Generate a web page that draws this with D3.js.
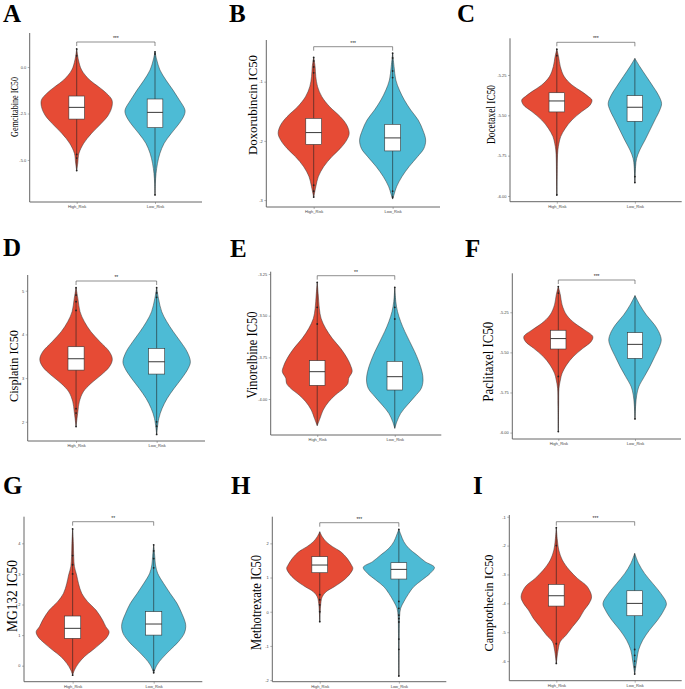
<!DOCTYPE html>
<html lang="en">
<head>
<meta charset="UTF-8">
<title>IC50 violin plots by risk group</title>
<script src="https://d3js.org/d3.v7.min.js"></script>
<style>
  body { margin: 0; background: #fff; }
  svg { display: block; }
  .tick-label { font-family: "Liberation Sans", Arial, sans-serif; fill: #444; }
</style>
</head>
<body>
<div id="chart"></div>
<script>
// ---- data ----
const groups = ["High_Risk", "Low_Risk"];
const panelLetters = ["A", "B", "C", "D", "E", "F", "G", "H", "I"];
const drugTitles = ["Gemcitabine IC50", "Doxorubincin IC50", "Docetaxel IC50",
  "Cisplatin IC50", "Vinorelbine IC50", "Paclitaxel IC50",
  "MG132  IC50", "Methotrexate IC50", "Camptothecin IC50"];
const sigLabels = ["***", "***", "***", "**", "**", "***", "**", "***", "***"];

const yDomains = [[-7.26, 1.83], [-3.117, -0.296], [-6.0355, -5.0225],
  [1.56, 5.36], [-4.216, -3.236], [-6.04, -5.007],
  [-0.523, 4.87], [-2.047, 2.78], [-6.68, -0.94]];
const yTickValues = [[0, -2.5, -5], [-1, -2, -3], [-5.25, -5.5, -5.75, -6],
  [5, 4, 3, 2], [-3.25, -3.5, -3.75, -4], [-5.25, -5.5, -5.75, -6],
  [4, 3, 2, 1, 0], [2, 1, 0, -1, -2], [-1, -2, -3, -4, -5, -6]];
const yTickLabels = [["0.0", "-2.5", "-5.0"], ["-1", "-2", "-3"], ["-5.25", "-5.50", "-5.75", "-6.00"],
  ["5", "4", "3", "2"], ["-3.25", "-3.50", "-3.75", "-4.00"], ["-5.25", "-5.50", "-5.75", "-6.00"],
  ["4", "3", "2", "1", "0"], ["2", "1", "0", "-1", "-2"], ["-1", "-2", "-3", "-4", "-5", "-6"]];

// violin outlines: IC50 values (top to bottom) and relative half-width
const highProfileValues = [
  [0.97, 0.38, -0.16, -0.70, -1.06, -1.42, -1.77, -2.13, -2.58, -3.03, -3.57, -4.10, -4.64, -5.18, -5.57],
  [-0.589, -0.746, -0.915, -1.085, -1.254, -1.423, -1.592, -1.732, -1.873, -1.986, -2.127, -2.268, -2.437, -2.606, -2.775, -2.955],
  [-5.091, -5.136, -5.198, -5.260, -5.312, -5.353, -5.384, -5.405, -5.436, -5.477, -5.529, -5.581, -5.632, -5.674, -5.715, -5.777, -5.860, -5.994],
  [5.069, 4.824, 4.519, 4.290, 4.061, 3.832, 3.603, 3.427, 3.260, 3.069, 2.878, 2.687, 2.458, 2.229, 1.893],
  [-3.300, -3.376, -3.456, -3.516, -3.576, -3.636, -3.696, -3.756, -3.806, -3.836, -3.876, -3.906, -3.936, -3.976, -4.016, -4.066, -4.116, -4.160],
  [-5.090, -5.142, -5.204, -5.267, -5.319, -5.360, -5.402, -5.433, -5.475, -5.527, -5.578, -5.630, -5.672, -5.724, -5.828, -5.994],
  [4.469, 4.0, 3.564, 3.237, 2.965, 2.692, 2.365, 2.093, 1.820, 1.493, 1.275, 1.112, 0.948, 0.730, 0.512, 0.294, 0.076, -0.142, -0.308],
  [2.341, 2.195, 2.049, 1.902, 1.756, 1.561, 1.366, 1.268, 1.122, 0.927, 0.732, 0.585, 0.439, 0.244, -0.293],
  [-1.381, -1.808, -2.155, -2.501, -2.848, -3.136, -3.425, -3.771, -4.002, -4.233, -4.522, -4.811, -5.099, -5.330, -5.619, -6.081]
];
const highProfileWidths = [
  [0, .05, .14, .37, .62, .85, 1.0, 1.0, .9, .7, .42, .2, .065, .03, 0],
  [0, .04, .06, .11, .23, .45, .75, .93, 1.0, .93, .75, .51, .28, .13, .06, 0],
  [0, .05, .1, .21, .43, .71, .9, 1.0, .95, .71, .43, .24, .11, .06, .03, .015, .01, 0],
  [0, .05, .11, .23, .41, .66, .92, 1.0, .92, .69, .41, .2, .09, .05, 0],
  [0, .03, .06, .11, .24, .43, .67, .86, .97, 1.0, .9, .88, .76, .52, .33, .17, .08, 0],
  [0, .06, .11, .24, .48, .76, 1.0, .95, .71, .43, .24, .11, .06, .02, .01, 0],
  [0, .02, .03, .05, .11, .16, .25, .41, .64, .82, .91, 1.0, .95, .77, .55, .32, .16, .05, 0],
  [0, .07, .18, .36, .59, .77, .89, .93, .86, .68, .41, .18, .07, .03, 0],
  [0, .03, .07, .17, .37, .6, .88, 1.0, .93, .79, .65, .46, .28, .11, .05, 0]
];
const lowProfileValues = [
  [0.82, 0.38, -0.16, -0.70, -1.24, -1.77, -2.31, -2.58, -3.03, -3.57, -4.10, -4.64, -5.18, -5.72, -6.25, -6.88],
  [-0.521, -0.746, -0.972, -1.141, -1.310, -1.479, -1.648, -1.817, -1.986, -2.127, -2.268, -2.437, -2.606, -2.775, -2.887, -2.983],
  [-5.147, -5.198, -5.260, -5.322, -5.374, -5.426, -5.467, -5.529, -5.591, -5.653, -5.715, -5.767, -5.818, -5.917],
  [5.069, 4.824, 4.519, 4.290, 4.061, 3.832, 3.603, 3.374, 3.221, 2.992, 2.763, 2.534, 2.305, 2.076, 1.710],
  [-3.330, -3.416, -3.476, -3.536, -3.596, -3.656, -3.716, -3.776, -3.836, -3.886, -3.936, -3.986, -4.036, -4.086, -4.136, -4.176],
  [-5.146, -5.204, -5.267, -5.329, -5.381, -5.423, -5.464, -5.527, -5.589, -5.651, -5.714, -5.766, -5.828, -5.915],
  [3.946, 3.564, 3.292, 3.019, 2.692, 2.365, 2.038, 1.711, 1.439, 1.275, 1.057, 0.785, 0.512, 0.240, 0.022, -0.229],
  [2.410, 2.244, 2.049, 1.854, 1.659, 1.463, 1.298, 1.122, 0.927, 0.732, 0.537, 0.293, 0.098, -0.146, -0.634, -1.883],
  [-2.270, -2.617, -2.963, -3.309, -3.656, -4.002, -4.233, -4.580, -4.926, -5.273, -5.619, -5.965, -6.450]
];
const lowProfileWidths = [
  [0, .05, .14, .31, .51, .69, .85, .83, .69, .46, .26, .14, .07, .03, .01, 0],
  [0, .04, .09, .19, .33, .51, .72, .85, .93, .88, .7, .46, .26, .11, .05, 0],
  [0, .14, .33, .52, .67, .76, .71, .57, .43, .29, .14, .05, .02, 0],
  [0, .05, .14, .28, .46, .66, .84, .93, .87, .69, .48, .29, .15, .06, 0],
  [0, .03, .08, .17, .29, .43, .57, .69, .78, .81, .76, .57, .36, .17, .06, 0],
  [0, .14, .33, .57, .71, .76, .71, .57, .43, .27, .11, .05, .02, 0],
  [0, .03, .05, .11, .27, .45, .64, .77, .86, .88, .84, .68, .45, .23, .09, 0],
  [0, .06, .14, .28, .51, .74, 1.0, .88, .65, .42, .28, .14, .05, .02, .01, 0],
  [0, .11, .28, .51, .74, .9, .83, .65, .42, .23, .11, .06, 0]
];

// boxes: [q1, median, q3]
const highBox = [[-2.80, -2.17, -1.56], [-2.06, -1.86, -1.62], [-5.479, -5.411, -5.360],
  [3.183, 3.443, 3.718], [-3.918, -3.836, -3.770], [-5.479, -5.414, -5.362],
  [0.894, 1.221, 1.624], [1.141, 1.366, 1.610], [-4.095, -3.737, -3.344]];
const lowBox = [[-3.26, -2.44, -1.72], [-2.17, -1.95, -1.72], [-5.537, -5.450, -5.378],
  [3.092, 3.374, 3.679], [-3.946, -3.866, -3.774], [-5.537, -5.450, -5.377],
  [1.0, 1.362, 1.766], [0.956, 1.239, 1.434], [-4.430, -4.002, -3.564]];

const highOutliers = [[0.97, 0.6, -4.7, -4.9, -5.57], [-0.59, -0.65, -0.75, -0.85, -2.75, -2.85, -2.95],
  [-5.09, -5.13, -5.994], [5.07, 4.9, 4.75, 4.55, 2.3, 2.2, 1.89], [-3.30, -3.45, -3.55],
  [-5.09, -5.13, -5.65, -5.994], [4.47, 3.6, 3.3, 3.0, -0.31], [0.5, 0.35, 0.2, 0, -0.29],
  [-1.38, -2.0, -5.4, -6.08]];
const lowOutliers = [[0.82, 0.7, -6.88], [-0.52, -0.6, -0.82, -0.93, -2.85, -2.95],
  [-5.88, -5.917], [5.07, 4.95, 4.85, 2.0, 1.9, 1.71], [-3.33, -3.45, -3.52],
  [-5.915], [3.95, 3.75, 3.5, 3.2, -0.15, -0.23], [2.41, 0.3, 0.1, -0.1, -0.2, -0.3, -0.8, -1.1, -1.88],
  [-5.6, -5.8, -6.0, -6.2, -6.45]];

// ---- layout (pixel frames of the nine panels) ----
const layout = [
  {x0: 29.7, x1: 202, top: 33, bottom: 202, lx: 3, ly: 22, tx: 18, ty: 107, tl: 60, fs: 11, by: 42},
  {x0: 266.3, x1: 440, top: 40, bottom: 207, lx: 229, ly: 22, tx: 257, ty: 105, tl: 100, fs: 12, by: 46.7},
  {x0: 510, x1: 681.7, top: 38.3, bottom: 201.7, lx: 457, ly: 22, tx: 495, ty: 114.5, tl: 59, fs: 12, by: 42.3},
  {x0: 27.7, x1: 205, top: 275, bottom: 441, lx: 3, ly: 256, tx: 18, ty: 366, tl: 72, fs: 12, by: 281},
  {x0: 270.7, x1: 441.3, top: 271.7, bottom: 435, lx: 230, ly: 257, tx: 257, ty: 355, tl: 87, fs: 14, by: 275.7},
  {x0: 512.3, x1: 681, top: 273.3, bottom: 439, lx: 465, ly: 257, tx: 493, ty: 361.7, tl: 80, fs: 14, by: 280},
  {x0: 24, x1: 202.3, top: 516.7, bottom: 681.7, lx: 3, ly: 494, tx: 17, ty: 596, tl: 72, fs: 15, by: 521.7},
  {x0: 272.3, x1: 446.3, top: 516.7, bottom: 681.7, lx: 231, ly: 494, tx: 261, ty: 602.5, tl: 95, fs: 14, by: 522.7},
  {x0: 509.3, x1: 681.7, top: 515, bottom: 680.7, lx: 473, ly: 494, tx: 493, ty: 603, tl: 97, fs: 12, by: 521.7}
];

const colors = {High_Risk: "#E64B35", Low_Risk: "#4DBBD5"};

var svg = d3.select('#chart').append('svg')
  .attr('width', 685).attr('height', 689);
svg.append('rect').attr('width', 685).attr('height', 689).attr('fill', '#fff');

layout.forEach(function(L, i) {
  var g = svg.append('g');

  var x = d3.scalePoint().domain(groups).range([L.x0, L.x1]).padding(0.6);
  var y = d3.scaleLinear().domain(yDomains[i]).range([L.bottom, L.top]);
  var half = x.step() * 0.45;
  var boxHalf = x.step() * 0.1;

  // panel letter
  g.append('text').attr('x', L.lx).attr('y', L.ly)
    .attr('font-family', '"Liberation Serif", "Times New Roman", serif')
    .attr('font-weight', 'bold').attr('font-size', 25)
    .text(panelLetters[i]);

  // y title
  g.append('text')
    .attr('transform', 'translate(' + L.tx + ',' + L.ty + ') rotate(-90)')
    .attr('text-anchor', 'middle')
    .attr('font-family', '"Liberation Serif", "Times New Roman", serif')
    .attr('font-size', L.fs)
    .attr('textLength', L.tl).attr('lengthAdjust', 'spacingAndGlyphs')
    .text(drugTitles[i]);

  // axes
  var yAxis = g.append('g').attr('transform', 'translate(' + L.x0 + ',0)')
    .call(d3.axisLeft(y).tickValues(yTickValues[i])
      .tickFormat(function(d, k) { return yTickLabels[i][k]; })
      .tickSize(2).tickPadding(1.5));
  var xAxis = g.append('g').attr('transform', 'translate(0,' + L.bottom + ')')
    .call(d3.axisBottom(x).tickSize(2).tickPadding(1.5));
  [yAxis, xAxis].forEach(function(a) {
    a.select('.domain').attr('stroke', '#666').attr('stroke-width', 1)
      .attr('d', a === yAxis
        ? 'M0,' + L.top + 'V' + L.bottom
        : 'M' + L.x0 + ',0H' + L.x1);
    a.selectAll('.tick line').attr('stroke', '#666').attr('stroke-width', 0.5);
    a.selectAll('.tick text').attr('class', 'tick-label')
      .attr('font-size', 4).attr('fill', '#444');
  });

  var profiles = [
    {grp: groups[0], vals: highProfileValues[i], wid: highProfileWidths[i], box: highBox[i], out: highOutliers[i]},
    {grp: groups[1], vals: lowProfileValues[i], wid: lowProfileWidths[i], box: lowBox[i], out: lowOutliers[i]}
  ];

  profiles.forEach(function(p) {
    var cx = x(p.grp);
    var pts = p.vals.map(function(v, k) { return {v: v, w: p.wid[k]}; });
    var area = d3.area()
      .y(function(d) { return y(d.v); })
      .x0(function(d) { return cx - d.w * half; })
      .x1(function(d) { return cx + d.w * half; })
      .curve(d3.curveCatmullRom.alpha(0.5));
    g.append('path').datum(pts)
      .attr('d', area)
      .attr('fill', colors[p.grp])
      .attr('stroke', '#333').attr('stroke-width', 0.5);

    // whisker through the violin
    g.append('line')
      .attr('x1', cx).attr('x2', cx)
      .attr('y1', y(d3.max(p.vals))).attr('y2', y(d3.min(p.vals)))
      .attr('stroke', '#222').attr('stroke-width', 0.6);

    // outliers
    g.selectAll(null).data(p.out).enter().append('circle')
      .attr('cx', cx).attr('cy', function(d) { return y(d); })
      .attr('r', 0.9).attr('fill', '#222');

    // box
    g.append('rect')
      .attr('x', cx - boxHalf).attr('width', boxHalf * 2)
      .attr('y', y(p.box[2])).attr('height', y(p.box[0]) - y(p.box[2]))
      .attr('fill', '#fff').attr('stroke', '#333').attr('stroke-width', 0.6);
    g.append('line')
      .attr('x1', cx - boxHalf).attr('x2', cx + boxHalf)
      .attr('y1', y(p.box[1])).attr('y2', y(p.box[1]))
      .attr('stroke', '#222').attr('stroke-width', 0.9);
  });

  // significance bracket
  var xa = x(groups[0]), xb = x(groups[1]);
  g.append('path')
    .attr('d', 'M' + xa + ',' + (L.by + 4) + 'V' + L.by + 'H' + xb + 'V' + (L.by + 4))
    .attr('fill', 'none').attr('stroke', '#444').attr('stroke-width', 0.6);
  g.append('text')
    .attr('x', (xa + xb) / 2).attr('y', L.by - 2)
    .attr('text-anchor', 'middle')
    .attr('font-family', '"Liberation Sans", Arial, sans-serif')
    .attr('font-size', 5).attr('fill', '#222')
    .text(sigLabels[i]);
});
</script>
</body>
</html>
